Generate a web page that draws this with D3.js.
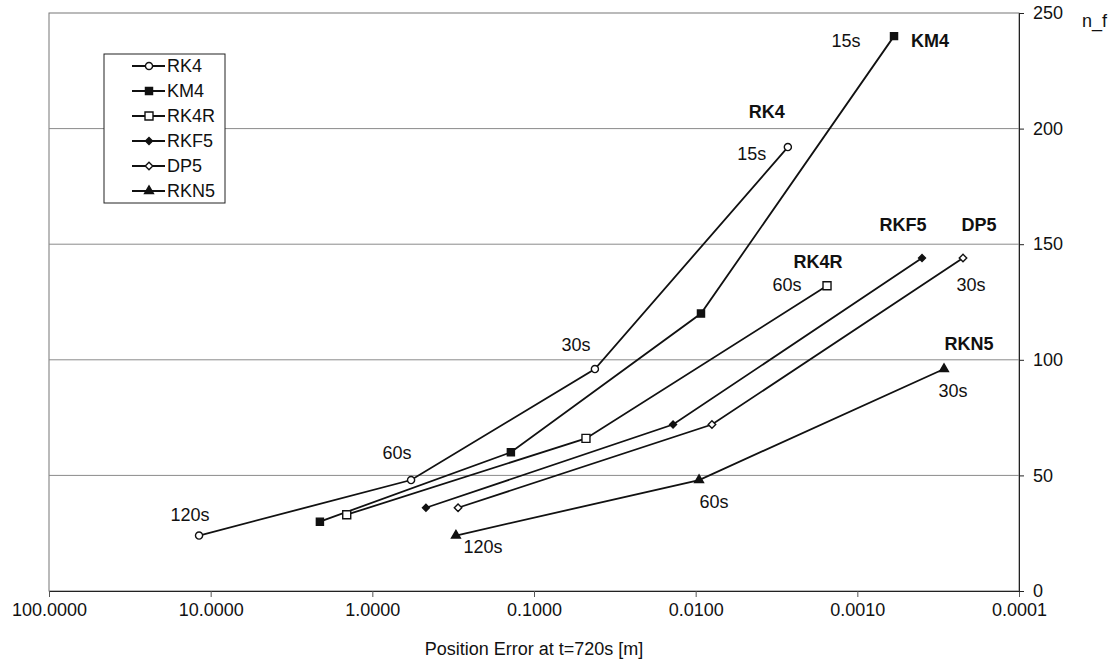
<!DOCTYPE html>
<html>
<head>
<meta charset="utf-8">
<script src="https://cdn.jsdelivr.net/npm/d3@7"></script>
<style>
  body { margin: 0; background: #fff; }
  text { font-family: "Liberation Sans", Arial, sans-serif; fill: #111; }
</style>
</head>
<body>
<svg id="chart" width="1116" height="659"></svg>
<script>
// Data: position error [m] vs number of function evaluations.
const seriesNames = ["RK4", "KM4", "RK4R", "RKF5", "DP5", "RKN5"];
const rk4Error = [11.8, 0.576, 0.042, 0.00269];
const rk4Nf = [24, 48, 96, 192];
const rk4Steps = ["120s", "60s", "30s", "15s"];
const km4Error = [2.11, 0.139, 0.00927, 0.000593];
const km4Nf = [30, 60, 120, 240];
const km4Steps = ["120s", "60s", "30s", "15s"];
const rk4rError = [1.44, 0.0477, 0.00154];
const rk4rNf = [33, 66, 132];
const rk4rSteps = ["240s", "120s", "60s"];
const rkf5Error = [0.466, 0.0138, 0.000398];
const rkf5Nf = [36, 72, 144];
const rkf5Steps = ["120s", "60s", "30s"];
const dp5Error = [0.295, 0.00793, 0.000222];
const dp5Nf = [36, 72, 144];
const dp5Steps = ["120s", "60s", "30s"];
const rkn5Error = [0.304, 0.00953, 0.000291];
const rkn5Nf = [24, 48, 96];
const rkn5Steps = ["120s", "60s", "30s"];

const xTicks = [100, 10, 1, 0.1, 0.01, 0.001, 0.0001];
const yTicks = [0, 50, 100, 150, 200, 250];
const xTitle = "Position Error at t=720s [m]";
const yTitle = "n_f";

// Build the series table from the arrays above.
const errors = [rk4Error, km4Error, rk4rError, rkf5Error, dp5Error, rkn5Error];
const nfs = [rk4Nf, km4Nf, rk4rNf, rkf5Nf, dp5Nf, rkn5Nf];
const stepsAll = [rk4Steps, km4Steps, rk4rSteps, rkf5Steps, dp5Steps, rkn5Steps];
const series = seriesNames.map((name, i) => ({
  name,
  points: errors[i].map((e, j) => ({ err: e, nf: nfs[i][j], step: stepsAll[i][j] }))
}));

// A square-ish diamond (d3's own diamond is too tall for this chart).
const squareDiamond = {
  draw(context, size) {
    const r = Math.sqrt(size / 2);
    context.moveTo(0, -r);
    context.lineTo(r, 0);
    context.lineTo(0, r);
    context.lineTo(-r, 0);
    context.closePath();
  }
};

// Marker style for each series.
const markerStyle = {
  RK4:  { type: d3.symbolCircle,   size: 40, fill: "#fff" },
  KM4:  { type: d3.symbolSquare,   size: 50, fill: "#111" },
  RK4R: { type: d3.symbolSquare,   size: 64, fill: "#fff" },
  RKF5: { type: squareDiamond,     size: 24, fill: "#111" },
  DP5:  { type: squareDiamond,     size: 28, fill: "#fff" },
  RKN5: { type: d3.symbolTriangle, size: 34, fill: "#111" }
};

// Where the step labels and the series names sit next to their points.
const stepLabelPlacement = [
  { s: "RK4", i: 0, dx: -9, dy: -15 },
  { s: "RK4", i: 1, dx: -14, dy: -21 },
  { s: "RK4", i: 2, dx: -19, dy: -18 },
  { s: "RK4", i: 3, dx: -36, dy: 13 },
  { s: "KM4", i: 3, dx: -48, dy: 11 },
  { s: "RK4R", i: 2, dx: -40, dy: 5 },
  { s: "DP5", i: 2, dx: 8, dy: 33 },
  { s: "RKN5", i: 0, dx: 27, dy: 17 },
  { s: "RKN5", i: 1, dx: 15, dy: 28 },
  { s: "RKN5", i: 2, dx: 9, dy: 28 }
];
const nameLabelPlacement = {
  RK4: { dx: -21, dy: -29, anchor: "middle" },
  KM4: { dx: 17, dy: 11, anchor: "start" },
  RK4R: { dx: -9, dy: -18, anchor: "middle" },
  RKF5: { dx: -19, dy: -27, anchor: "middle" },
  DP5: { dx: 16, dy: -27, anchor: "middle" },
  RKN5: { dx: 25, dy: -19, anchor: "middle" }
};

const margin = { top: 13, right: 97, bottom: 68, left: 49 };
const width = 1116 - margin.left - margin.right;
const height = 659 - margin.top - margin.bottom;
const fontSize = 18;

const svg = d3.select("#chart");
const g = svg.append("g").attr("transform", `translate(${margin.left},${margin.top})`);

// Log scale running from large errors on the left to small ones on the right.
const x = d3.scaleLog().domain([100, 0.0001]).range([0, width]);
const y = d3.scaleLinear().domain([0, 250]).range([height, 0]);

// Plot frame and gridlines.
g.append("rect")
  .attr("x", 0).attr("y", 0)
  .attr("width", width).attr("height", height)
  .attr("fill", "none")
  .attr("stroke", "#777")
  .attr("stroke-width", 1);
g.selectAll(".grid")
  .data(yTicks.filter(d => d > 0 && d < 250))
  .enter().append("line")
  .attr("class", "grid")
  .attr("x1", 0).attr("x2", width)
  .attr("y1", d => y(d)).attr("y2", d => y(d))
  .attr("stroke", "#8a8a8a")
  .attr("stroke-width", 1);

// Bottom axis.
const xAxis = d3.axisBottom(x)
  .tickValues(xTicks)
  .tickFormat(d3.format(".4f"))
  .tickSize(6)
  .tickPadding(6);
const xg = g.append("g").attr("transform", `translate(0,${height})`).call(xAxis);
xg.select(".domain").attr("stroke", "#222");
xg.selectAll(".tick line").attr("stroke", "#555");
xg.selectAll("text").attr("font-size", fontSize).attr("fill", "#111")
  .style("font-family", "'Liberation Sans', Arial, sans-serif");

// Right axis.
const yAxis = d3.axisRight(y)
  .tickValues(yTicks)
  .tickFormat(d3.format("d"))
  .tickSize(5)
  .tickPadding(9);
const yg = g.append("g").attr("transform", `translate(${width},0)`).call(yAxis);
yg.select(".domain").attr("stroke", "#222");
yg.selectAll(".tick line").attr("stroke", "#222");
yg.selectAll("text").attr("font-size", fontSize).attr("fill", "#111")
  .style("font-family", "'Liberation Sans', Arial, sans-serif");

// Axis titles.
svg.append("text")
  .attr("x", margin.left + width / 2)
  .attr("y", 655)
  .attr("text-anchor", "middle")
  .attr("font-size", fontSize)
  .text(xTitle);
svg.append("text")
  .attr("x", 1082)
  .attr("y", 27)
  .attr("font-size", fontSize)
  .text(yTitle);

// Lines for each method.
const line = d3.line().x(d => x(d.err)).y(d => y(d.nf));
g.selectAll(".series")
  .data(series)
  .enter().append("path")
  .attr("class", "series")
  .attr("d", d => line(d.points))
  .attr("fill", "none")
  .attr("stroke", "#111")
  .attr("stroke-width", 1.8);

// Markers.
series.forEach(s => {
  const st = markerStyle[s.name];
  g.selectAll(null)
    .data(s.points)
    .enter().append("path")
    .attr("d", d3.symbol().type(st.type).size(st.size))
    .attr("transform", d => `translate(${x(d.err)},${y(d.nf)})`)
    .attr("fill", st.fill)
    .attr("stroke", "#111")
    .attr("stroke-width", 1.4);
});

// Time step labels.
stepLabelPlacement.forEach(p => {
  const s = series.find(d => d.name === p.s);
  const pt = s.points[p.i];
  g.append("text")
    .attr("x", x(pt.err) + p.dx)
    .attr("y", y(pt.nf) + p.dy)
    .attr("text-anchor", "middle")
    .attr("font-size", fontSize)
    .text(pt.step);
});

// Bold method names at the end of each line.
series.forEach(s => {
  const pt = s.points[s.points.length - 1];
  const p = nameLabelPlacement[s.name];
  g.append("text")
    .attr("x", x(pt.err) + p.dx)
    .attr("y", y(pt.nf) + p.dy)
    .attr("text-anchor", p.anchor)
    .attr("font-size", fontSize)
    .attr("font-weight", "bold")
    .text(s.name);
});

// Legend box.
const legend = svg.append("g").attr("transform", "translate(104,54)");
legend.append("rect")
  .attr("width", 121).attr("height", 149)
  .attr("fill", "#fff")
  .attr("stroke", "#222")
  .attr("stroke-width", 1);
const item = legend.selectAll(".item")
  .data(series)
  .enter().append("g")
  .attr("class", "item")
  .attr("transform", (d, i) => `translate(0,${12 + i * 25})`);
item.append("line")
  .attr("x1", 28).attr("x2", 61)
  .attr("y1", 0).attr("y2", 0)
  .attr("stroke", "#111")
  .attr("stroke-width", 1.8);
item.append("path")
  .attr("d", d => d3.symbol().type(markerStyle[d.name].type).size(markerStyle[d.name].size)())
  .attr("transform", "translate(45,0)")
  .attr("fill", d => markerStyle[d.name].fill)
  .attr("stroke", "#111")
  .attr("stroke-width", 1.4);
item.append("text")
  .attr("x", 63)
  .attr("y", 0)
  .attr("dy", "0.35em")
  .attr("font-size", fontSize)
  .text(d => d.name);
</script>
</body>
</html>
